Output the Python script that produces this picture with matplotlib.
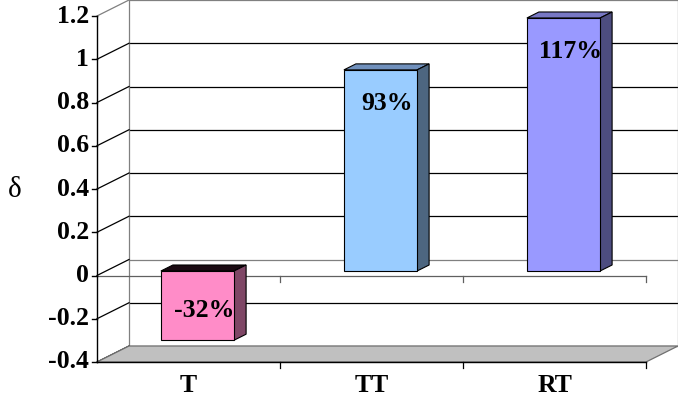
import matplotlib
matplotlib.use("Agg")
import matplotlib.pyplot as plt
from matplotlib.patches import Polygon
from matplotlib.transforms import Affine2D, IdentityTransform

categories = ["T", "TT", "RT"]
values = [-0.32, 0.93, 1.17]
labels = ["-32%", "93%", "117%"]
yticks = [-0.4, -0.2, 0, 0.2, 0.4, 0.6, 0.8, 1, 1.2]
ytick_labels = ["-0.4", "-0.2", "0", "0.2", "0.4", "0.6", "0.8", "1", "1.2"]
front_colors = ["#FF8CC8", "#99CCFF", "#9999FF"]
side_colors = ["#7F4766", "#4D6680", "#4D4D80"]
top_colors = ["#1A0A12", "#7090BC", "#7878C4"]

W, H = 678, 397
fig = plt.figure(figsize=(W / 100, H / 100), dpi=100)
fig.patch.set_facecolor("white")

x0, x1 = 97, 678
y_bot, y_top = 362, 0
ax = fig.add_axes([x0 / W, 1 - y_bot / H, (x1 - x0) / W, (y_bot - y_top) / H])
ax.set_axis_off()

WALL_DX, WALL_DY = 32, 16
FRONT_DX, FRONT_DY = 9, 4.5
BACK_DX, BACK_DY = 21, 10.5

px_per_cat = (646 - 97) / 3.0
xmin, xmax = -0.5, 2.5 + (x1 - 646) / px_per_cat
px_per_val = (362 - 16) / 1.6
ymin, ymax = -0.4, 1.2 + WALL_DY / px_per_val
ax.set_xlim(xmin, xmax)
ax.set_ylim(ymin, ymax)


def tr(dx, dy):
    return ax.transData + Affine2D().translate(dx, dy)


T0 = tr(0, 0)
TB = tr(WALL_DX, WALL_DY)
I = IdentityTransform()
lw = 0.9
FONT = "Liberation Serif"
FS = 18.5

# back wall gridlines
for v in yticks:
    col = "#808080" if v in (1.2, 0, -0.4) else "black"
    ax.plot([-0.5, 2.5], [v, v], color=col, lw=lw, transform=TB, clip_on=False, zorder=1)
for xe in (-0.5, 2.5):
    ax.plot([xe, xe], [-0.4, 1.2], color="#808080", lw=lw, transform=TB, clip_on=False, zorder=1)

# left side wall diagonals
for v in yticks:
    col = "#808080" if v == 1.2 else "black"
    p0 = T0.transform((-0.5, v))
    p1 = TB.transform((-0.5, v))
    ax.plot([p0[0], p1[0]], [p0[1], p1[1]], color=col, lw=lw, transform=I, clip_on=False, zorder=1)

# floor
pf = [T0.transform((-0.5, -0.4)), T0.transform((2.5, -0.4)),
      TB.transform((2.5, -0.4)), TB.transform((-0.5, -0.4))]
ax.add_artist(Polygon(pf, closed=True, facecolor="#C0C0C0", edgecolor="#707070", lw=lw,
                      transform=I, zorder=2))
ax.plot([-0.5, 2.5], [-0.4, -0.4], color="black", lw=1.0, transform=T0, clip_on=False, zorder=3)

# front zero line
ax.plot([-0.5, 2.5], [0, 0], color="#606060", lw=lw, transform=T0, clip_on=False, zorder=3)

# category ticks
tick_len = 6
for xb in (0.5, 1.5, 2.5):
    for v in (0, -0.4):
        p = T0.transform((xb, v))
        ax.plot([p[0], p[0]], [p[1], p[1] - tick_len], color="black" if v == -0.4 else "#606060",
                lw=lw, transform=I, clip_on=False, zorder=3)

# bars
bw = 0.4
TF = tr(FRONT_DX, FRONT_DY)
TK = tr(BACK_DX, BACK_DY)
for i, v in enumerate(values):
    xl, xr = i - bw / 2, i + bw / 2
    lo, hi = min(0, v), max(0, v)
    top = [TF.transform((xl, hi)), TF.transform((xr, hi)), TK.transform((xr, hi)), TK.transform((xl, hi))]
    ax.add_artist(Polygon(top, closed=True, facecolor=top_colors[i], edgecolor="black", lw=0.8,
                          transform=I, zorder=5))
    side = [TF.transform((xr, lo)), TK.transform((xr, lo)), TK.transform((xr, hi)), TF.transform((xr, hi))]
    ax.add_artist(Polygon(side, closed=True, facecolor=side_colors[i], edgecolor="black", lw=0.8,
                          transform=I, zorder=5))
    front = [TF.transform((xl, lo)), TF.transform((xr, lo)), TF.transform((xr, hi)), TF.transform((xl, hi))]
    ax.add_artist(Polygon(front, closed=True, facecolor=front_colors[i], edgecolor="black", lw=0.8,
                          transform=I, zorder=6))
    off = -34 if v > 0 else 30
    lt = tr(FRONT_DX + 7, FRONT_DY + off)
    ax.text(i, v, labels[i], transform=lt, ha="center", va="center",
            fontsize=FS, fontweight="bold", family=FONT, zorder=7)

# front y axis
ax.plot([-0.5, -0.5], [-0.4, 1.2], color="black", lw=1.0, transform=T0, clip_on=False, zorder=8)
for v, lab in zip(yticks, ytick_labels):
    p = T0.transform((-0.5, v))
    ax.plot([p[0] - 5, p[0]], [p[1], p[1]], color="black", lw=1.0, transform=I, clip_on=False, zorder=8)
    ax.text(p[0] - 8, p[1], lab, transform=I, ha="right", va="center",
            fontsize=FS, fontweight="bold", family=FONT)

# category labels
for i, c in enumerate(categories):
    p = T0.transform((i, -0.4))
    ax.text(p[0], p[1] - 23, c, transform=I, ha="center", va="center",
            fontsize=FS, fontweight="bold", family=FONT)

fig.text(15 / W, 1 - 190 / H, "δ", ha="center", va="center", fontsize=21, family=FONT)

fig.savefig("out.png", dpi=100, facecolor="white")
